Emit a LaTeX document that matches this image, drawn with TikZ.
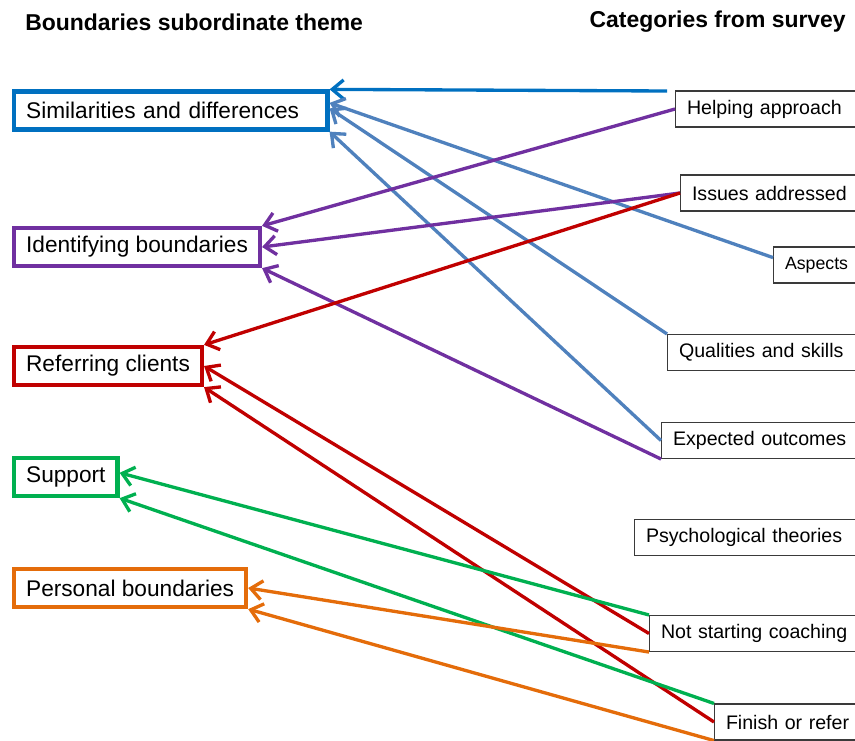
\documentclass[tikz,border=0pt]{standalone}
\usepackage{fontspec}
\setmainfont{Liberation Sans}
\usepackage{tikz}
\usetikzlibrary{arrows.meta,positioning,calc}
\definecolor{bdblue}{HTML}{0070C0}
\definecolor{bdsteel}{HTML}{4F81BD}
\definecolor{bdpurple}{HTML}{7030A0}
\definecolor{bdred}{HTML}{C00000}
\definecolor{bdgreen}{HTML}{00B050}
\definecolor{bdorange}{HTML}{E46C0A}
\definecolor{bdgray}{HTML}{3A3A3A}

\begin{document}
\begin{tikzpicture}[
    x=0.75pt,
    y=-0.75pt,
    head/.style={inner sep=0pt, font=\fontsize{17.2}{20}\selectfont\bfseries},
    theme/.style={rectangle, line width=3.2pt, anchor=west, minimum height=28.5pt, inner xsep=9pt, fill=white, font=\fontsize{17}{20}\selectfont},
    cat/.style={rectangle, draw=bdgray, line width=0.8pt, anchor=west, minimum height=27pt, inner xsep=8.6pt, text width=170pt, align=left, fill=white, font=\fontsize{14.7}{17}\selectfont},
    link/.style={line width=2.5pt, -{Straight Barb[length=3mm, width=5mm]}}
  ]
    \useasboundingbox (0,0) rectangle (855,740);

    \node[head, anchor=west] (lhead) at (25,22) {Boundaries subordinate theme};
    \node[head, anchor=east] (rhead) at (846,22) {Categories from survey};

    \node[theme, draw=bdblue, text width=217pt, align=left] (sim) at (12,110.5) {Similarities and differences};
    \node[theme, draw=bdpurple] (ident) at (12,247) {Identifying boundaries};
    \node[theme, draw=bdred] (refer) at (12,366) {Referring clients};
    \node[theme, draw=bdgreen] (supp) at (12,477) {Support};
    \node[theme, draw=bdorange] (pers) at (12,588) {Personal boundaries};

    \node[cat] (helping) at (675,109) {Helping approach};
    \node[cat] (issues) at (680,193) {Issues addressed};
    \node[cat, font=\fontsize{13.3}{16}\selectfont] (aspects) at (773,265) {Aspects};
    \node[cat] (quals) at (667,352.5) {Qualities and skills};
    \node[cat] (outcomes) at (661,440.5) {Expected outcomes};
    \node[cat] (psych) at (634,537.5) {Psychological theories};
    \node[cat] (notstart) at (649,633.5) {Not starting coaching};
    \node[cat] (finish) at (714,722) {Finish or refer};

    \coordinate (blueend) at (667,91);

    \draw[link, bdblue] (blueend) -- (sim.north east);
    \draw[link, bdsteel] ($(aspects.north west)!0.3!(aspects.south west)$) -- ($(sim.north east)!0.32!(sim.south east)$);
    \draw[link, bdsteel] (quals.north west) -- ($(sim.north east)!0.45!(sim.south east)$);
    \draw[link, bdsteel] (outcomes.west) -- (sim.south east);

    \draw[link, bdpurple] (helping.west) -- (ident.north east);
    \draw[link, bdpurple] (issues.west) -- (ident.east);
    \draw[link, bdpurple] (outcomes.south west) -- (ident.south east);

    \draw[link, bdred] (issues.west) -- (refer.north east);
    \draw[link, bdred] (notstart.west) -- (refer.east);
    \draw[link, bdred] (finish.west) -- (refer.south east);

    \draw[link, bdgreen] (notstart.north west) -- ($(supp.north east)!0.4!(supp.south east)$);
    \draw[link, bdgreen] (finish.north west) -- (supp.south east);

    \draw[link, bdorange] (notstart.south west) -- (pers.east);
    \draw[link, bdorange] (finish.south west) -- (pers.south east);
  \end{tikzpicture}
\end{document}
